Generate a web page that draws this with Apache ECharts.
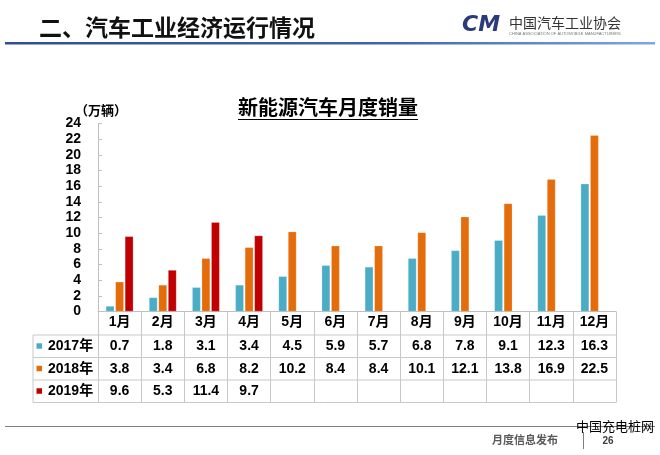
<!DOCTYPE html>
<html>
<head>
<meta charset="utf-8">
<script src="https://cdn.jsdelivr.net/npm/echarts@6/dist/echarts.min.js"></script>
<style>
html,body{margin:0;padding:0;background:#fff;}
#main{width:660px;height:455px;}
</style>
</head>
<body>
<div id="main"></div>
<script>
// ---- data ----
const months = ['1月','2月','3月','4月','5月','6月','7月','8月','9月','10月','11月','12月'];
const seriesNames = ['2017年','2018年','2019年'];
const sales2017 = [0.7,1.8,3.1,3.4,4.5,5.9,5.7,6.8,7.8,9.1,12.3,16.3];
const sales2018 = [3.8,3.4,6.8,8.2,10.2,8.4,8.4,10.1,12.1,13.8,16.9,22.5];
const sales2019 = [9.6,5.3,11.4,9.7,null,null,null,null,null,null,null,null];
const colors = ['#4bacc6','#e46c0a','#c00000'];
const yMin = 0, yMax = 24, yStep = 2;

const FONT = '"Liberation Sans","Noto Sans CJK SC",sans-serif';
const chart = echarts.init(document.getElementById('main'));
const allSeries = [sales2017, sales2018, sales2019];

const option = {
  animation: false,
  textStyle: { fontFamily: FONT },
  grid: { left: 98, right: 44, top: 123.5, bottom: 143.5, containLabel: false },
  xAxis: {
    type: 'category',
    data: months,
    axisLine: { lineStyle: { color: '#bfbfbf', width: 1 } },
    axisTick: { show: true, length: 91, lineStyle: { color: '#c8c8c8', width: 1 } },
    axisLabel: { margin: 4, fontSize: 14, fontWeight: 'bold', color: '#000', fontFamily: FONT }
  },
  yAxis: {
    type: 'value', min: yMin, max: yMax, interval: yStep,
    axisLine: { show: true, lineStyle: { color: '#bfbfbf', width: 1 } },
    axisTick: { show: true, inside: true, length: 4, lineStyle: { color: '#bfbfbf' } },
    splitLine: { show: false },
    axisLabel: { margin: 17, fontSize: 14, fontWeight: 'bold', color: '#000', fontFamily: FONT }
  },
  series: allSeries.map((d, i) => ({
    name: seriesNames[i], type: 'bar', data: d,
    barWidth: 8.5, barGap: '12%',
    itemStyle: { color: colors[i], borderColor: 'rgba(255,255,255,0.35)', borderWidth: 0.6 }
  }))
};
chart.setOption(option);

// ---- build table + decorations ----
const g = [];
// header
g.push({ type: 'text', left: 39, top: 18, style: { text: '二、汽车工业经济运行情况', font: 'bold 23px ' + FONT, fill: '#111' } });
g.push({ type: 'rect', shape: { x: 5, y: 42, width: 650, height: 2.5 },
  style: { fill: new echarts.graphic.LinearGradient(0, 0, 1, 0, [
    { offset: 0, color: '#2f4f8f' }, { offset: 0.6, color: '#3d66b0' }, { offset: 1, color: '#7aa8e8' }]) } });
// logo
g.push({ type: 'text', x: 462, y: 14, style: { text: 'CM', font: 'italic 900 22px "DejaVu Sans",sans-serif', fill: '#2b3a78' } });
g.push({ type: 'text', x: 509, y: 16, style: { text: '中国汽车工业协会', font: '14px "Noto Sans CJK SC",sans-serif', fill: '#333' } });
g.push({ type: 'text', x: 509, y: 32, style: { text: 'CHINA ASSOCIATION OF AUTOMOBILE MANUFACTURERS', font: '4px "Liberation Sans",sans-serif', fill: '#777' } });
// chart title
g.push({ type: 'text', x: 328, y: 109, style: { text: '新能源汽车月度销量', font: 'bold 20px ' + FONT, fill: '#000', align: 'center', verticalAlign: 'middle' } });
g.push({ type: 'line', shape: { x1: 238, y1: 119.5, x2: 418, y2: 119.5 }, style: { stroke: '#000', lineWidth: 1 } });
// unit
g.push({ type: 'text', x: 75, y: 111, style: { text: '（万辆）', font: 'bold 13px ' + FONT, fill: '#000', verticalAlign: 'middle' } });

// table
const p0 = chart.convertToPixel({ gridIndex: 0 }, [0, 0]);
const pLast = chart.convertToPixel({ gridIndex: 0 }, [months.length - 1, 0]);
const colW = (pLast[0] - p0[0]) / (months.length - 1);
const tableRight = pLast[0] + colW / 2;
const rowYs = [335, 357.5, 380, 402.5];
const leftX = 33;
rowYs.forEach(y => g.push({ type: 'line', shape: { x1: leftX, y1: y, x2: tableRight, y2: y }, style: { stroke: '#c8c8c8', lineWidth: 1 } }));
g.push({ type: 'line', shape: { x1: leftX, y1: rowYs[0], x2: leftX, y2: rowYs[3] }, style: { stroke: '#c8c8c8', lineWidth: 1 } });
allSeries.forEach((d, r) => {
  const yc = (rowYs[r] + rowYs[r + 1]) / 2;
  g.push({ type: 'rect', shape: { x: 36.5, y: yc - 3, width: 5.5, height: 5.5 }, style: { fill: colors[r] } });
  g.push({ type: 'text', x: 48, y: yc, style: { text: seriesNames[r], font: 'bold 14px ' + FONT, fill: '#000', verticalAlign: 'middle' } });
  d.forEach((v, c) => {
    if (v == null) return;
    const px = chart.convertToPixel({ gridIndex: 0 }, [c, 0])[0];
    g.push({ type: 'text', x: px, y: yc, style: { text: v.toFixed(1), font: 'bold 14px ' + FONT, fill: '#000', align: 'center', verticalAlign: 'middle' } });
  });
});

// footer
g.push({ type: 'line', shape: { x1: 5, y1: 426.5, x2: 655, y2: 426.5 }, style: { stroke: '#808080', lineWidth: 1 } });
g.push({ type: 'text', x: 492, y: 441, style: { text: '月度信息发布', font: 'bold 11px ' + FONT, fill: '#595959', verticalAlign: 'middle' } });
g.push({ type: 'line', shape: { x1: 583.5, y1: 432, x2: 583.5, y2: 449 }, style: { stroke: '#808080', lineWidth: 1 } });
g.push({ type: 'text', x: 608, y: 441, style: { text: '26', font: 'bold 10px ' + FONT, fill: '#404040', align: 'center', verticalAlign: 'middle' } });
g.push({ type: 'text', x: 576, y: 426, style: { text: '中国充电桩网', font: '13px "Noto Sans CJK SC",sans-serif', fill: '#000', verticalAlign: 'middle' } });

chart.setOption({ graphic: g });
</script>
</body>
</html>
